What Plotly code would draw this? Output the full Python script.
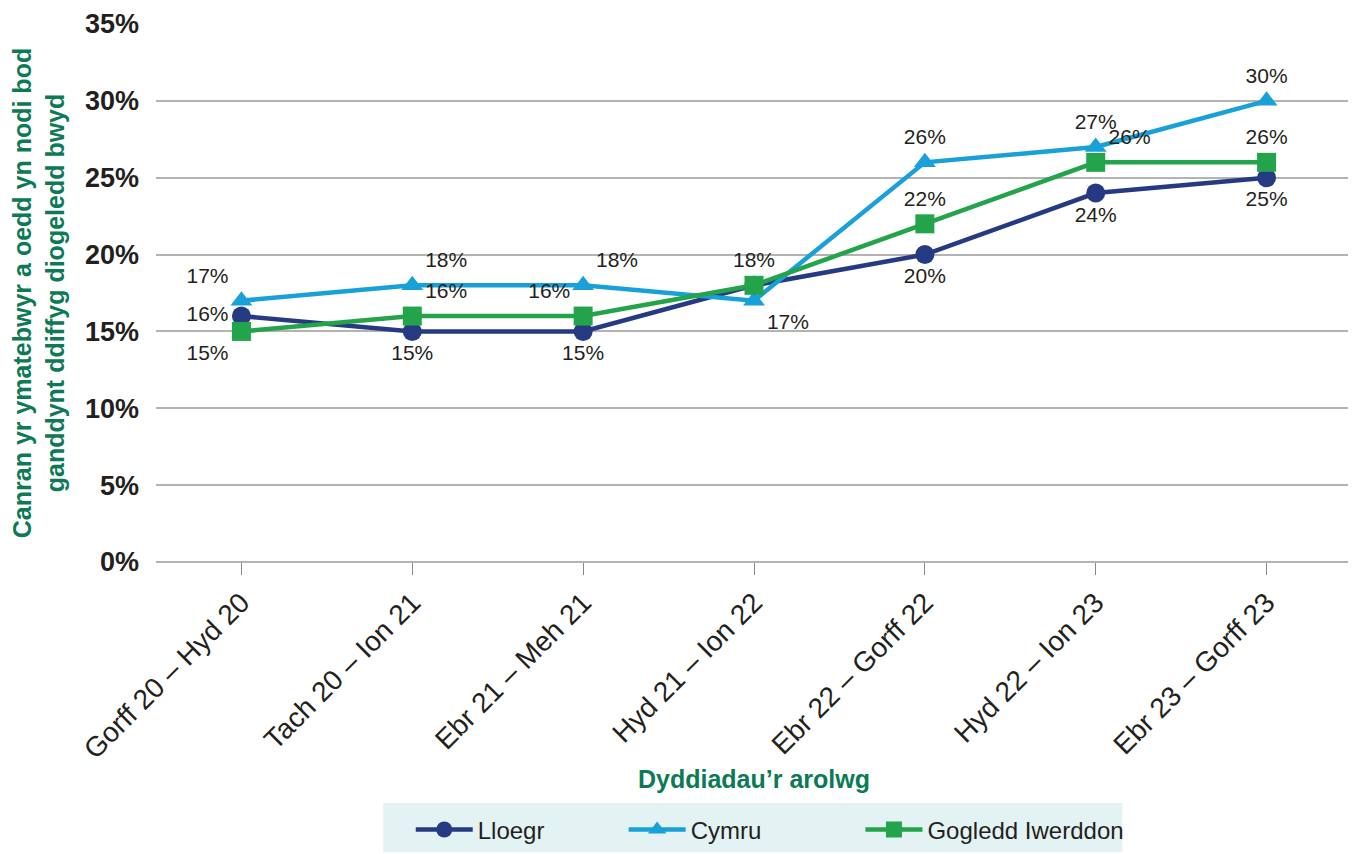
import plotly.graph_objects as go

periods = [
    "Gorff 20 – Hyd 20",
    "Tach 20 – Ion 21",
    "Ebr 21 – Meh 21",
    "Hyd 21 – Ion 22",
    "Ebr 22 – Gorff 22",
    "Hyd 22 – Ion 23",
    "Ebr 23 – Gorff 23",
]
lloegr = [16, 15, 15, 18, 20, 24, 25]
cymru = [17, 18, 18, 17, 26, 27, 30]
gogledd_iwerddon = [15, 16, 16, 18, 22, 26, 26]

# label placement per point (GI 18% is hidden behind Lloegr in the original)
lloegr_pos = ["middle left", "bottom center", "bottom center", "top center",
              "bottom center", "bottom center", "bottom center"]
cymru_pos = ["top left", "top right", "top right", "bottom right",
             "top center", "top center", "top center"]
gi_pos = ["bottom left", "top right", "top left", "top center",
          "top center", "top right", "top center"]
gi_show = [True, True, True, False, True, True, True]

FONT = "Liberation Sans, Arial, sans-serif"
GREEN_TXT = "#0b7a55"


def labels(values, show=None):
    show = show or [True] * len(values)
    return [f"{v}%" if s else "" for v, s in zip(values, show)]


fig = go.Figure()
series = [
    ("Lloegr", lloegr, "#263a84", "circle", lloegr_pos, None, "legend"),
    ("Cymru", cymru, "#18a0d8", "triangle-up", cymru_pos, None, "legend2"),
    ("Gogledd Iwerddon", gogledd_iwerddon, "#23a34a", "square", gi_pos, gi_show, "legend3"),
]
for name, vals, color, symbol, pos, show, leg in series:
    fig.add_trace(
        go.Scatter(
            x=periods, y=vals, name=name, mode="lines+markers+text",
            line={"color": color, "width": 4.5},
            marker={"symbol": symbol, "size": 19, "color": color},
            text=labels(vals, show), textposition=pos,
            textfont={"size": 21, "color": "#231f20", "family": FONT},
            cliponaxis=False, legend=leg,
        )
    )

# one legend per series so the entries can sit where the original has them
legend_style = {
    "orientation": "h", "xanchor": "left", "y": -0.498, "yanchor": "middle",
    "bgcolor": "rgba(0,0,0,0)", "font": {"size": 24, "color": "#231f20"},
    "itemwidth": 57, "borderwidth": 0,
}

fig.update_layout(
    width=1356, height=854,
    margin={"l": 148, "r": 12, "t": 16, "b": 300, "autoexpand": False},
    paper_bgcolor="white", plot_bgcolor="white",
    font={"family": FONT, "color": "#231f20"},
    showlegend=True,
    legend={**legend_style, "x": 0.213},
    legend2={**legend_style, "x": 0.391},
    legend3={**legend_style, "x": 0.589},
    shapes=[{
        "type": "rect", "xref": "paper", "yref": "paper",
        "x0": 0.19, "x1": 0.808, "y0": -0.539, "y1": -0.448,
        "fillcolor": "#e3f3f3", "line": {"width": 0}, "layer": "below",
    }],
    xaxis={
        "range": [-0.5, 6.5], "showgrid": False, "tickangle": -45,
        "ticks": "outside", "ticklen": 12, "tickcolor": "#888",
        "showline": False, "tickfont": {"size": 28, "color": "#231f20"},
        "automargin": False,
        "title": {"text": "<b>Dyddiadau’r arolwg</b>", "standoff": 6,
                  "font": {"size": 25, "color": GREEN_TXT}},
    },
    yaxis={
        "range": [0, 35], "dtick": 5,
        "tickprefix": "<b>", "ticksuffix": "%</b>",
        "gridcolor": "#b3b3b3", "gridwidth": 1.5, "zeroline": True,
        "zerolinecolor": "#b3b3b3", "zerolinewidth": 1.5,
        "tickfont": {"size": 27, "color": "#231f20"},
        "ticklabelstandoff": 16, "automargin": False,
        "title": {"text": "<b>Canran yr ymatebwyr a oedd yn nodi bod<br>ganddynt ddiffyg diogeledd bwyd</b>",
                  "standoff": 14, "font": {"size": 25, "color": GREEN_TXT}},
    },
)

fig.write_html("out.html")
